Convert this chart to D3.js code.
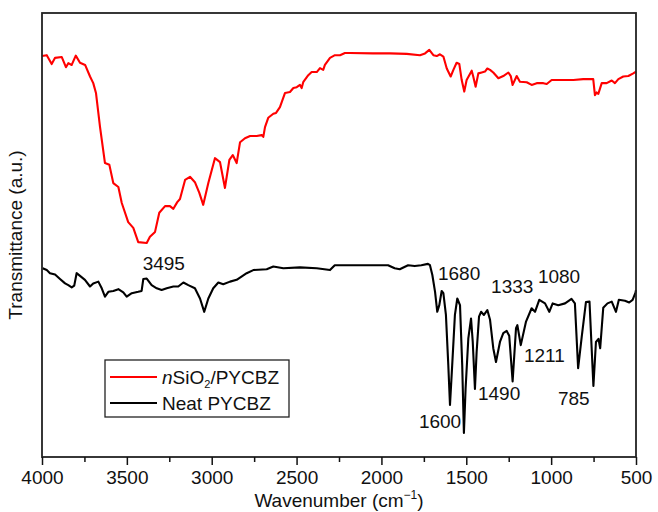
<!DOCTYPE html>
<html>
<head>
<meta charset="utf-8">
<script src="https://cdn.jsdelivr.net/npm/d3@7"></script>
<style>
  html, body { margin: 0; padding: 0; background: #fff; }
  svg text { font-family: "Liberation Sans", Arial, Helvetica, sans-serif; fill: #111; }
</style>
</head>
<body>
<svg id="chart" width="658" height="512"></svg>
<script>
// FTIR spectra: wavenumber (cm-1) and transmittance (arbitrary units, offset traces)
const silicaWavenumber = [4000,3972,3943,3923,3884,3859,3845,3825,3801,3776,3746,3717,3698,3682,3658,3629,3603,3580,3550,3530,3492,3462,3433,3383,3364,3334,3309,3275,3246,3226,3203,3187,3157,3128,3099,3073,3050,3020,2981,2951,2922,2896,2876,2853,2833,2804,2774,2735,2706,2696,2686,2667,2637,2621,2598,2568,2539,2519,2499,2480,2470,2460,2431,2411,2381,2362,2343,2333,2303,2274,2244,2215,2185,2050,1950,1851,1773,1743,1718,1694,1674,1655,1635,1615,1592,1576,1557,1541,1527,1512,1498,1468,1459,1445,1429,1409,1390,1376,1360,1341,1311,1282,1252,1238,1227,1203,1184,1144,1115,1085,1046,1026,997,928,869,811,752,742,732,722,702,673,643,624,604,575,545,516,500];
const silicaTransmittance = [90.3,90.5,88.5,89.9,90.1,87.8,88.7,88.3,90.4,88.8,88.3,85.7,84.2,82.0,74.3,66.2,65.8,61.7,60.8,57.2,52.9,51.6,48.4,48.2,49.6,50.7,55.0,56.5,56.5,55.9,57.4,58.1,62.4,63.1,61.9,59.5,56.8,61.7,67.3,66.4,60.6,66.9,68.0,66.2,70.9,71.8,72.3,72.3,72.5,72.1,74.3,76.4,77.3,77.5,78.8,82.0,82.2,83.1,83.3,83.8,83.1,84.5,86.0,86.7,86.7,87.6,87.2,88.3,89.9,90.5,90.5,91.0,91.0,90.9,90.9,90.8,90.5,90.9,91.7,90.5,90.3,90.7,90.2,87.5,85.7,87.2,88.8,88.5,84.9,82.3,84.9,87.0,85.7,83.4,86.4,86.6,86.8,87.5,87.2,86.6,85.3,85.8,86.6,85.8,83.8,85.8,84.5,84.4,83.8,84.2,84.2,84.0,84.9,84.9,84.9,85.1,85.1,81.5,82.1,81.8,84.2,84.2,84.8,84.2,85.1,85.7,85.8,86.4,86.8];

const neatWavenumber = [3996,3972,3953,3923,3894,3864,3845,3825,3810,3796,3776,3747,3717,3698,3668,3648,3629,3609,3580,3550,3521,3501,3471,3433,3413,3403,3383,3354,3324,3295,3265,3226,3197,3167,3138,3099,3069,3044,3020,2991,2961,2932,2892,2853,2794,2755,2676,2637,2578,2480,2381,2303,2275,2119,1961,1922,1892,1843,1804,1765,1726,1714,1700,1684,1671,1659,1645,1635,1620,1606,1596,1583,1567,1553,1537,1524,1514,1504,1488,1472,1462,1449,1439,1425,1413,1396,1376,1360,1341,1325,1301,1282,1262,1247,1227,1207,1199,1179,1148,1115,1095,1070,1036,1011,991,958,918,880,860,841,820,795,774,751,736,721,711,693,668,643,618,601,565,540,520,503,500];
const neatTransmittance = [42.5,42.1,41.4,41.1,40.1,39.1,38.7,38.2,38.6,41.4,40.8,39.9,38.4,39.1,39.5,38.0,36.1,37.2,37.4,37.8,37.1,36.1,36.9,37.2,37.4,40.1,40.2,38.7,38.0,37.6,38.0,38.4,38.4,39.3,38.7,38.0,35.7,32.7,35.7,38.0,39.3,38.9,39.5,39.9,41.4,42.1,42.3,42.9,42.5,42.7,42.5,42.1,43.2,43.2,43.2,42.5,42.3,43.2,43.0,43.2,43.5,43.2,41.0,37.2,32.7,34.2,37.4,36.9,32.0,20.7,11.7,20.7,32.0,35.7,34.2,20.7,5.4,15.5,26.7,31.2,26.0,15.3,23.7,31.6,32.7,32.0,33.1,30.9,24.5,21.4,26.0,27.9,28.4,27.3,17.0,29.0,29.7,25.2,30.5,33.5,32.7,35.4,34.6,32.7,34.6,34.2,34.6,35.6,34.6,20.0,27.0,34.9,35.0,16.0,25.9,26.6,24.5,33.6,34.6,35.0,32.7,35.4,35.2,34.8,35.4,37.0,37.6];

// Peak annotations (text anchored at its lower-left corner, in data units)
const peakLabels = ["3495", "1680", "1333", "1080", "1211", "1490", "785", "1600"];
const peakLabelWavenumber = [3407, 1667, 1354, 1078, 1160, 1431, 960, 1779];
const peakLabelTransmittance = [42.1, 39.9, 36.9, 39.2, 21.4, 12.8, 11.7, 6.5];

const xTicks = [4000, 3500, 3000, 2500, 2000, 1500, 1000, 500];
const xMinorTicks = [3750, 3250, 2750, 2250, 1750, 1250, 750];

const seriesNames = ["nSiO2/PYCBZ", "Neat PYCBZ"];
const seriesColors = ["#ff0000", "#000000"];

const FS = 19;

const svg = d3.select("#chart");
const margin = { top: 13, right: 22, bottom: 55, left: 42 };
const W = 658, H = 512;
const iw = W - margin.left - margin.right;
const ih = H - margin.top - margin.bottom;

const x = d3.scaleLinear().domain([4000, 500]).range([margin.left, margin.left + iw]);
const y = d3.scaleLinear().domain([0, 100]).range([margin.top + ih, margin.top]);

const line = d3.line().x(d => x(d[0])).y(d => y(d[1]));

const series = [
  d3.zip(silicaWavenumber, silicaTransmittance),
  d3.zip(neatWavenumber, neatTransmittance)
];

// spectra
svg.append("g")
  .selectAll("path")
  .data(series)
  .join("path")
  .attr("d", line)
  .attr("fill", "none")
  .attr("stroke", (d, i) => seriesColors[i])
  .attr("stroke-width", 2.1)
  .attr("stroke-linejoin", "round");

// frame
svg.append("rect")
  .attr("x", margin.left).attr("y", margin.top)
  .attr("width", iw).attr("height", ih)
  .attr("fill", "none").attr("stroke", "#222").attr("stroke-width", 1.8);

// minor ticks
svg.append("g")
  .attr("transform", `translate(0,${margin.top + ih})`)
  .call(d3.axisBottom(x).tickValues(xMinorTicks).tickSize(5).tickFormat(""))
  .call(g => g.select(".domain").remove())
  .call(g => g.selectAll("line").attr("stroke", "#111").attr("stroke-width", 1.5));

// major ticks and labels
svg.append("g")
  .attr("transform", `translate(0,${margin.top + ih})`)
  .call(d3.axisBottom(x).tickValues(xTicks).tickSize(8).tickPadding(6).tickFormat(d3.format("d")))
  .call(g => g.select(".domain").remove())
  .call(g => g.selectAll("line").attr("stroke", "#111").attr("stroke-width", 1.5))
  .call(g => g.selectAll("text")
    .attr("font-family", "'Liberation Sans', Arial, sans-serif")
    .attr("font-size", FS).attr("fill", "#111"));

// axis titles
const xt = svg.append("text")
  .attr("x", margin.left + iw / 2).attr("y", 507)
  .attr("text-anchor", "middle").attr("font-size", FS);
xt.append("tspan").text("Wavenumber (cm");
xt.append("tspan").text("\u22121").attr("font-size", 12).attr("dy", -8);
xt.append("tspan").text(")").attr("dy", 8);

svg.append("text")
  .attr("transform", `translate(22,${margin.top + ih / 2}) rotate(-90)`)
  .attr("text-anchor", "middle").attr("font-size", FS)
  .text("Transmittance (a.u.)");

// peak annotations
svg.append("g")
  .selectAll("text")
  .data(peakLabels)
  .join("text")
  .attr("x", (d, i) => x(peakLabelWavenumber[i]))
  .attr("y", (d, i) => y(peakLabelTransmittance[i]))
  .attr("font-size", FS)
  .text(d => d);

// legend
const lg = svg.append("g").attr("transform", "translate(105,360)");
lg.append("rect").attr("width", 184).attr("height", 57)
  .attr("fill", "#fff").attr("stroke", "#222").attr("stroke-width", 1.3);
const rows = [17, 43];
rows.forEach((ry, i) => {
  lg.append("line").attr("x1", 5).attr("x2", 52).attr("y1", ry).attr("y2", ry)
    .attr("stroke", seriesColors[i]).attr("stroke-width", 2);
});
const t1 = lg.append("text").attr("x", 57).attr("y", rows[0] + 7).attr("font-size", FS);
t1.append("tspan").text("n").attr("font-style", "italic");
t1.append("tspan").text("SiO");
t1.append("tspan").text("2").attr("font-size", 11).attr("dy", 4);
t1.append("tspan").text("/PYCBZ").attr("dy", -4);
lg.append("text").attr("x", 57).attr("y", rows[1] + 7).attr("font-size", FS).text(seriesNames[1]);
</script>
</body>
</html>
